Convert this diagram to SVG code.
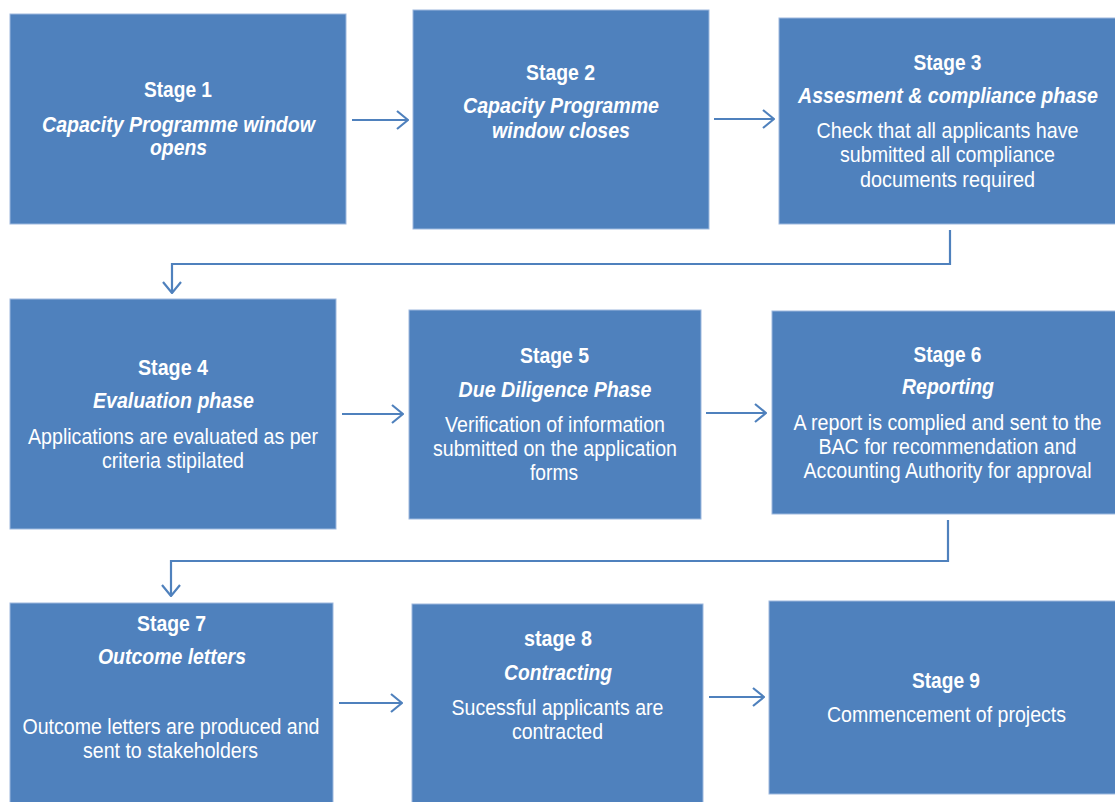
<svg xmlns="http://www.w3.org/2000/svg" width="1115" height="802" viewBox="0 0 1115 802">
<style>
.box{fill:#4F81BD;stroke:#9DB8DE;stroke-width:1}
text{font-family:"Liberation Sans",Arial,sans-serif;font-size:22px;fill:#FFFFFF;text-anchor:middle}
.h{font-weight:bold}
.i{font-weight:bold;font-style:italic}
.conn{fill:none;stroke:#4F81BD;stroke-width:2.2}
</style>
<defs>
<marker id="arr" viewBox="0 0 13 20" refX="12" refY="10" markerWidth="13" markerHeight="20" markerUnits="userSpaceOnUse" orient="auto">
<path d="M1,1 L12,10 L1,19" fill="none" stroke="#4F81BD" stroke-width="2.2"/>
</marker>
</defs>
<rect width="1115" height="802" fill="#FFFFFF"/>
<g id="connectors">
<path class="conn" d="M352,120 H408" marker-end="url(#arr)"/>
<path class="conn" d="M714,119 H774" marker-end="url(#arr)"/>
<path class="conn" d="M950,230 V264 H172 V293" marker-end="url(#arr)"/>
<path class="conn" d="M342,414 H403" marker-end="url(#arr)"/>
<path class="conn" d="M706,413 H766" marker-end="url(#arr)"/>
<path class="conn" d="M948,520 V561 H171 V596" marker-end="url(#arr)"/>
<path class="conn" d="M339,703 H402" marker-end="url(#arr)"/>
<path class="conn" d="M709,697 H764" marker-end="url(#arr)"/>
</g>
<g id="stage1">
<rect class="box" x="10" y="14" width="336" height="210"/>
<text class="h" x="178" y="97" textLength="68" lengthAdjust="spacingAndGlyphs">Stage 1</text>
<text class="i" x="178.5" y="132" textLength="273" lengthAdjust="spacingAndGlyphs">Capacity Programme window</text>
<text class="i" x="178.5" y="155" textLength="57" lengthAdjust="spacingAndGlyphs">opens</text>
</g>
<g id="stage2">
<rect class="box" x="413" y="10" width="296" height="219"/>
<text class="h" x="560.5" y="80" textLength="69" lengthAdjust="spacingAndGlyphs">Stage 2</text>
<text class="i" x="561" y="113" textLength="196" lengthAdjust="spacingAndGlyphs">Capacity Programme</text>
<text class="i" x="561" y="138" textLength="138" lengthAdjust="spacingAndGlyphs">window closes</text>
</g>
<g id="stage3">
<rect class="box" x="779" y="18" width="337" height="206"/>
<text class="h" x="947.5" y="70" textLength="68" lengthAdjust="spacingAndGlyphs">Stage 3</text>
<text class="i" x="948" y="103" textLength="300" lengthAdjust="spacingAndGlyphs">Assesment &amp; compliance phase</text>
<text x="947.5" y="138" textLength="262" lengthAdjust="spacingAndGlyphs">Check that all applicants have</text>
<text x="947.5" y="162" textLength="215" lengthAdjust="spacingAndGlyphs">submitted all compliance</text>
<text x="947.5" y="187" textLength="175" lengthAdjust="spacingAndGlyphs">documents required</text>
</g>
<g id="stage4">
<rect class="box" x="10" y="299" width="326" height="230"/>
<text class="h" x="173" y="375" textLength="70" lengthAdjust="spacingAndGlyphs">Stage 4</text>
<text class="i" x="173.5" y="408" textLength="161" lengthAdjust="spacingAndGlyphs">Evaluation phase</text>
<text x="173" y="444" textLength="290" lengthAdjust="spacingAndGlyphs">Applications are evaluated as per</text>
<text x="173" y="468" textLength="142" lengthAdjust="spacingAndGlyphs">criteria stipilated</text>
</g>
<g id="stage5">
<rect class="box" x="409" y="310" width="292" height="209"/>
<text class="h" x="554.5" y="363" textLength="69" lengthAdjust="spacingAndGlyphs">Stage 5</text>
<text class="i" x="555" y="397" textLength="193" lengthAdjust="spacingAndGlyphs">Due Diligence Phase</text>
<text x="555" y="432" textLength="220" lengthAdjust="spacingAndGlyphs">Verification of information</text>
<text x="555" y="456" textLength="244" lengthAdjust="spacingAndGlyphs">submitted on the application</text>
<text x="554" y="480" textLength="48" lengthAdjust="spacingAndGlyphs">forms</text>
</g>
<g id="stage6">
<rect class="box" x="772" y="311" width="344" height="203"/>
<text class="h" x="947.5" y="362" textLength="68" lengthAdjust="spacingAndGlyphs">Stage 6</text>
<text class="i" x="948" y="394" textLength="92" lengthAdjust="spacingAndGlyphs">Reporting</text>
<text x="947.5" y="430" textLength="308" lengthAdjust="spacingAndGlyphs">A report is complied and sent to the</text>
<text x="947.5" y="454" textLength="258" lengthAdjust="spacingAndGlyphs">BAC for recommendation and</text>
<text x="947.5" y="478" textLength="288" lengthAdjust="spacingAndGlyphs">Accounting Authority for approval</text>
</g>
<g id="stage7">
<rect class="box" x="10" y="603" width="323" height="200"/>
<text class="h" x="171.5" y="631" textLength="69" lengthAdjust="spacingAndGlyphs">Stage 7</text>
<text class="i" x="172" y="664" textLength="148" lengthAdjust="spacingAndGlyphs">Outcome letters</text>
<text x="171" y="734" textLength="297" lengthAdjust="spacingAndGlyphs">Outcome letters are produced and</text>
<text x="170.5" y="758" textLength="175" lengthAdjust="spacingAndGlyphs">sent to stakeholders</text>
</g>
<g id="stage8">
<rect class="box" x="412" y="604" width="291" height="199"/>
<text class="h" x="558" y="646" textLength="68" lengthAdjust="spacingAndGlyphs">stage 8</text>
<text class="i" x="558" y="680" textLength="108" lengthAdjust="spacingAndGlyphs">Contracting</text>
<text x="557.5" y="715" textLength="212" lengthAdjust="spacingAndGlyphs">Sucessful applicants are</text>
<text x="557.5" y="739" textLength="91" lengthAdjust="spacingAndGlyphs">contracted</text>
</g>
<g id="stage9">
<rect class="box" x="769" y="601" width="347" height="193"/>
<text class="h" x="946" y="688" textLength="68" lengthAdjust="spacingAndGlyphs">Stage 9</text>
<text x="946.5" y="722" textLength="239" lengthAdjust="spacingAndGlyphs">Commencement of projects</text>
</g>
</svg>
